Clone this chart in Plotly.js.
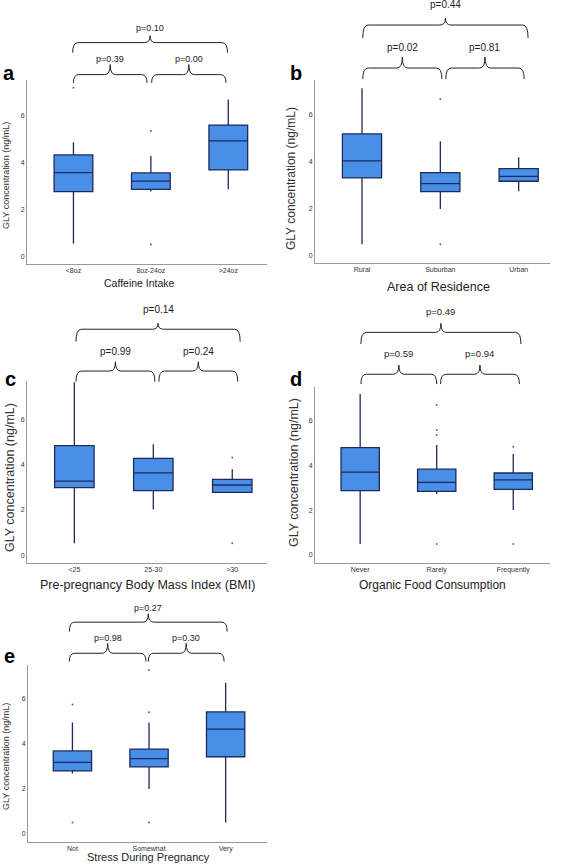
<!DOCTYPE html>
<html>
<head>
<meta charset="utf-8">
<script src="https://cdn.plot.ly/plotly-3.0.1.min.js"></script>
<style>html,body{margin:0;padding:0;background:#fff;}#chart{width:567px;height:865px;}</style>
</head>
<body>
<div id="chart"></div>
<script>
// ---------- DATA ----------
// a: Caffeine intake
const aCats = ['<8oz', '8oz-24oz', '>24oz'];
const aQ1 = [2.76, 2.86, 3.69];
const aMed = [3.57, 3.21, 4.93];
const aQ3 = [4.33, 3.56, 5.61];
const aLo = [0.54, 2.76, 2.86];
const aHi = [4.87, 4.29, 6.71];
const aOutX = ['<8oz', '8oz-24oz', '8oz-24oz'];
const aOutY = [7.21, 5.36, 0.5];
const aP = ['p=0.39', 'p=0.00', 'p=0.10'];

// b: Area of residence
const bCats = ['Rural', 'Suburban', 'Urban'];
const bQ1 = [3.32, 2.74, 3.18];
const bMed = [4.05, 3.08, 3.39];
const bQ3 = [5.2, 3.55, 3.72];
const bLo = [0.5, 2.0, 2.75];
const bHi = [7.14, 4.88, 4.2];
const bOutX = ['Suburban', 'Suburban'];
const bOutY = [6.67, 0.5];
const bP = ['p=0.02', 'p=0.81', 'p=0.44'];

// c: Pre-pregnancy BMI
const cCats = ['<25', '25-30', '>30'];
const cQ1 = [2.98, 2.85, 2.77];
const cMed = [3.27, 3.64, 3.1];
const cQ3 = [4.84, 4.28, 3.35];
const cLo = [0.52, 2.02, 2.77];
const cHi = [7.64, 4.9, 3.8];
const cOutX = ['>30', '>30'];
const cOutY = [4.32, 0.52];
const cP = ['p=0.99', 'p=0.24', 'p=0.14'];

// d: Organic food consumption
const dCats = ['Never', 'Rarely', 'Frequently'];
const dQ1 = [2.87, 2.84, 2.93];
const dMed = [3.7, 3.24, 3.35];
const dQ3 = [4.79, 3.83, 3.66];
const dLo = [0.49, 2.72, 2.01];
const dHi = [7.19, 4.91, 4.51];
const dOutX = ['Rarely', 'Rarely', 'Rarely', 'Rarely', 'Frequently', 'Frequently'];
const dOutY = [6.7, 5.58, 5.36, 0.49, 4.83, 0.49];
const dP = ['p=0.59', 'p=0.94', 'p=0.49'];

// e: Stress during pregnancy
const eCats = ['Not', 'Somewhat', 'Very'];
const eQ1 = [2.78, 2.96, 3.41];
const eMed = [3.16, 3.33, 4.64];
const eQ3 = [3.67, 3.75, 5.4];
const eLo = [2.67, 1.98, 0.49];
const eHi = [4.93, 4.93, 6.69];
const eOutX = ['Not', 'Not', 'Somewhat', 'Somewhat', 'Somewhat'];
const eOutY = [5.73, 0.49, 7.26, 5.38, 0.49];
const eP = ['p=0.98', 'p=0.30', 'p=0.27'];

const yTitle = 'GLY concentration (ng/mL)';
const yTicks = [0, 2, 4, 6];

// ---------- LAYOUT / STYLE ----------
const W = 567, H = 865;
const FONT = 'Liberation Sans, Arial, sans-serif';
const FILL = '#4a8fe7', EDGE = '#1d2b5c';
const px = v => v / W, py = v => 1 - v / H;

const panels = [
  {label: 'a', cats: aCats, q1: aQ1, med: aMed, q3: aQ3, lo: aLo, hi: aHi, ox: aOutX, oy: aOutY, p: aP,
   xtitle: 'Caffeine Intake',
   xd: [27, 267], yd: [80, 264], xr: [-0.6, 2.5], yr: [-0.34, 7.54],
   bx: [[0, 0.95], [1.01, 1.97], [-0.01, 1.99]],
   bh: [[7.42, 7.77, 8.2, 8.45], [7.42, 7.77, 8.2, 8.45], [8.71, 9.14, 9.44, 9.78]],
   pSize: 9, ytSize: 9, ytPos: [6, 176], xtSize: 10.5, xtPos: [139, 283], lbPos: [9, 73]},
  {label: 'b', cats: bCats, q1: bQ1, med: bMed, q3: bQ3, lo: bLo, hi: bHi, ox: bOutX, oy: bOutY, p: bP,
   xtitle: 'Area of Residence',
   xd: [315, 550], yd: [80, 263], xr: [-0.6, 2.4], yr: [-0.3, 7.49],
   bx: [[0.01, 1.02], [1.07, 2.07], [0.01, 2.12]],
   bh: [[7.53, 8.0, 8.47, 8.89], [7.53, 8.0, 8.47, 8.89], [9.28, 9.83, 10.13, 10.7]],
   pSize: 10, ytSize: 12, ytPos: [291, 179], xtSize: 12.5, xtPos: [438, 287], lbPos: [296, 73]},
  {label: 'c', cats: cCats, q1: cQ1, med: cMed, q3: cQ3, lo: cLo, hi: cHi, ox: cOutX, oy: cOutY, p: cP,
   xtitle: 'Pre-pregnancy Body Mass Index (BMI)',
   xd: [27, 267], yd: [381, 563], xr: [-0.6, 2.44], yr: [-0.35, 7.7],
   bx: [[0.02, 1.02], [1.07, 2.07], [0.02, 2.1]],
   bh: [[7.67, 8.14, 8.55, 9.0], [7.67, 8.14, 8.55, 9.0], [9.44, 9.99, 10.25, 10.88]],
   pSize: 10, ytSize: 12.5, ytPos: [10, 478], xtSize: 12.5, xtPos: [147, 585], lbPos: [10, 379]},
  {label: 'd', cats: dCats, q1: dQ1, med: dMed, q3: dQ3, lo: dLo, hi: dHi, ox: dOutX, oy: dOutY, p: dP,
   xtitle: 'Organic Food Consumption',
   xd: [315, 550], yd: [387, 563], xr: [-0.59, 2.48], yr: [-0.36, 7.5],
   bx: [[0.01, 1.0], [1.05, 2.08], [0.01, 2.1]],
   bh: [[7.63, 8.07, 8.48, 9.0], [7.63, 8.07, 8.48, 9.0], [9.42, 9.94, 10.34, 10.86]],
   pSize: 9.5, ytSize: 12.5, ytPos: [294, 473], xtSize: 12, xtPos: [432, 585], lbPos: [296, 379]},
  {label: 'e', cats: eCats, q1: eQ1, med: eMed, q3: eQ3, lo: eLo, hi: eHi, ox: eOutX, oy: eOutY, p: eP,
   xtitle: 'Stress During Pregnancy',
   xd: [28, 267], yd: [665, 842], xr: [-0.58, 2.54], yr: [-0.37, 7.48],
   bx: [[-0.04, 0.96], [0.99, 1.98], [-0.04, 2.02]],
   bh: [[7.63, 8.0, 8.44, 8.67], [7.63, 8.0, 8.44, 8.67], [8.96, 9.38, 9.75, 10.03]],
   pSize: 9, ytSize: 9, ytPos: [6, 757], xtSize: 11, xtPos: [148, 857], lbPos: [9, 656]}
];

const data = [];
const layout = {
  width: W, height: H, margin: {l: 0, r: 0, t: 0, b: 0},
  paper_bgcolor: '#fff', plot_bgcolor: '#fff',
  showlegend: false, font: {family: FONT, color: '#333'},
  shapes: [], annotations: []
};

panels.forEach((P, i) => {
  const s = i === 0 ? '' : String(i + 1);
  const xa = 'x' + s, ya = 'y' + s;
  layout['xaxis' + s] = {
    domain: [px(P.xd[0]), px(P.xd[1])], anchor: ya, type: 'category',
    categoryorder: 'array', categoryarray: P.cats, range: P.xr,
    showgrid: false, zeroline: false, showline: true, linecolor: '#9a9a9a', linewidth: 1,
    ticks: '', tickfont: {size: 7, color: '#333', family: FONT}, fixedrange: true
  };
  layout['yaxis' + s] = {
    domain: [py(P.yd[1]), py(P.yd[0])], anchor: xa, range: P.yr,
    tickmode: 'array', tickvals: yTicks, ticktext: yTicks.map(String),
    showgrid: false, zeroline: false, showline: true, linecolor: '#9a9a9a', linewidth: 1,
    ticks: '', tickfont: {size: 7, color: '#333', family: FONT}, fixedrange: true
  };
  data.push({
    type: 'box', x: P.cats, q1: P.q1, median: P.med, q3: P.q3,
    lowerfence: P.lo, upperfence: P.hi, xaxis: xa, yaxis: ya,
    fillcolor: FILL, line: {color: EDGE, width: 1.3}, whiskerwidth: 0, width: 0.5,
    boxpoints: false, hoverinfo: 'skip'
  });
  data.push({
    type: 'scatter', mode: 'markers', x: P.ox, y: P.oy, xaxis: xa, yaxis: ya,
    marker: {size: 2, color: '#666'}, hoverinfo: 'skip'
  });

  const fx = v => (v - P.xr[0]) / (P.xr[1] - P.xr[0]);
  const fy = v => (v - P.yr[0]) / (P.yr[1] - P.yr[0]);
  const dx = 0.07;
  P.bx.forEach((ext, k) => {
    const [x0, x1] = ext;
    const [e, h, t, tt] = P.bh[k];
    const m = (x0 + x1) / 2;
    const path = `M ${fx(x0)},${fy(e)} Q ${fx(x0)},${fy(h)} ${fx(x0 + dx)},${fy(h)} ` +
      `L ${fx(m - dx)},${fy(h)} Q ${fx(m)},${fy(h)} ${fx(m)},${fy(t)} ` +
      `Q ${fx(m)},${fy(h)} ${fx(m + dx)},${fy(h)} L ${fx(x1 - dx)},${fy(h)} ` +
      `Q ${fx(x1)},${fy(h)} ${fx(x1)},${fy(e)}`;
    layout.shapes.push({type: 'path', xref: xa + ' domain', yref: ya + ' domain', path: path,
      line: {color: '#222', width: 1}});
    layout.annotations.push({xref: xa + ' domain', yref: ya + ' domain', x: fx(m), y: fy(tt),
      text: P.p[k], showarrow: false, xanchor: 'center', yanchor: 'middle',
      font: {size: P.pSize, color: '#222', family: FONT}});
  });

  layout.annotations.push({xref: 'paper', yref: 'paper', x: px(P.ytPos[0]), y: py(P.ytPos[1]),
    text: yTitle, textangle: -90, showarrow: false, xanchor: 'center', yanchor: 'middle',
    font: {size: P.ytSize, color: '#333', family: FONT}});
  layout.annotations.push({xref: 'paper', yref: 'paper', x: px(P.xtPos[0]), y: py(P.xtPos[1]),
    text: P.xtitle, showarrow: false, xanchor: 'center', yanchor: 'middle',
    font: {size: P.xtSize, color: '#222', family: FONT}});
  layout.annotations.push({xref: 'paper', yref: 'paper', x: px(P.lbPos[0]), y: py(P.lbPos[1]),
    text: '<b>' + P.label + '</b>', showarrow: false, xanchor: 'center', yanchor: 'middle',
    font: {size: 20, color: '#000', family: FONT}});
});

Plotly.newPlot('chart', data, layout, {staticPlot: true, displayModeBar: false});
</script>
</body>
</html>
